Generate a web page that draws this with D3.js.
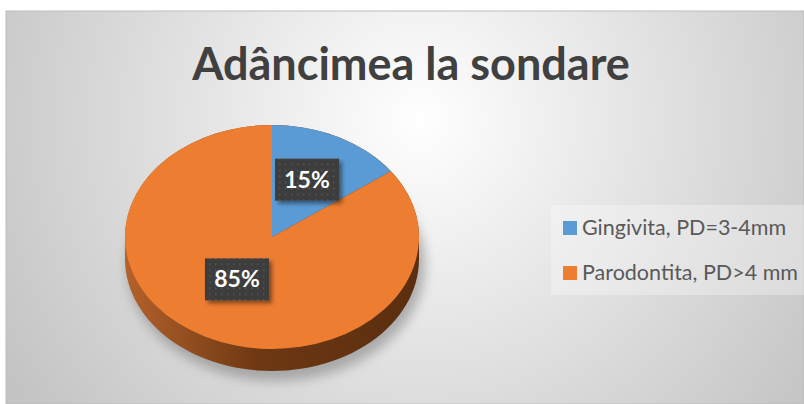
<!DOCTYPE html>
<html>
<head>
<meta charset="utf-8">
<script src="https://cdn.jsdelivr.net/npm/d3@7"></script>
<style>
 body{margin:0;background:#fff;}
 svg{display:block;}
</style>
</head>
<body>
<div id="chart"></div>
<script>
var title = "Adâncimea la sondare";
var categories = ["Gingivita, PD=3-4mm", "Parodontita, PD>4 mm"];
var values = [15, 85];
var labels = ["15%", "85%"];
var colors = ["#5b9bd5", "#ed7d31"];

var width = 804, height = 404;

var svg = d3.select('#chart').append("svg")
  .attr("width", width)
  .attr("height", height);

var defs = svg.append("defs");

// background gradient
var bg = defs.append("radialGradient").attr("id", "bg")
  .attr("gradientUnits", "userSpaceOnUse")
  .attr("cx", 420).attr("cy", 120).attr("r", 480);
bg.append("stop").attr("offset", "0%").attr("stop-color", "#ffffff");
bg.append("stop").attr("offset", "100%").attr("stop-color", "#c4c4c4");

var side = defs.append("linearGradient").attr("id", "side")
  .attr("x1", "0%").attr("x2", "100%").attr("y1", "0%").attr("y2", "0%");
side.append("stop").attr("offset", "0%").attr("stop-color", "#b4612a");
side.append("stop").attr("offset", "45%").attr("stop-color", "#6e3813");
side.append("stop").attr("offset", "100%").attr("stop-color", "#5a2e0f");

var blur = defs.append("filter").attr("id", "blur")
  .attr("x", "-20%").attr("y", "-20%").attr("width", "140%").attr("height", "140%");
blur.append("feGaussianBlur").attr("stdDeviation", 6);

var shadow = defs.append("filter").attr("id", "shadow")
  .attr("x", "-20%").attr("y", "-20%").attr("width", "150%").attr("height", "150%");
shadow.append("feDropShadow").attr("dx", 3).attr("dy", 3).attr("stdDeviation", 2)
  .attr("flood-color", "#000").attr("flood-opacity", 0.45);

var dots = defs.append("pattern").attr("id", "dots")
  .attr("patternUnits", "userSpaceOnUse").attr("width", 6).attr("height", 6);
dots.append("rect").attr("width", 6).attr("height", 6).attr("fill", "#3d3d3d");
dots.append("rect").attr("x", 2).attr("y", 2).attr("width", 1.5).attr("height", 1.5).attr("fill", "#585858");

svg.append("rect")
  .attr("x", 6).attr("y", 11)
  .attr("width", width - 6).attr("height", height - 11)
  .attr("fill", "url(#bg)")
  .attr("stroke", "#bdbdbd").attr("stroke-width", 1);

svg.append("text")
  .attr("x", 411).attr("y", 80)
  .attr("text-anchor", "middle")
  .attr("font-family", "Lato, 'Open Sans', sans-serif")
  .attr("font-weight", "bold")
  .attr("font-size", 45)
  .attr("fill", "#404040")
  .text(title);

// pie
var cx = 272, cy = 237, rx = 147, ry = 112, depth = 22;
var k = ry / rx;

var pie = d3.pie().sort(null).value(function(d){ return d; });
var arcs = pie(values);
var arc = d3.arc().innerRadius(0).outerRadius(rx);
var labelArc = d3.arc().innerRadius(0).outerRadius(rx * 1.05);

// shadow under the pie
svg.append("ellipse")
  .attr("cx", cx + 4).attr("cy", cy + depth + 6)
  .attr("rx", rx + 2).attr("ry", ry + 4)
  .attr("fill", "#7a7a7a").attr("opacity", 0.55)
  .attr("filter", "url(#blur)");

// side wall (front half)
var n = 60;
var bottom = d3.range(n + 1).map(function(i){
  var t = Math.PI - Math.PI * i / n;
  return [cx + rx * Math.cos(t), cy + depth + ry * Math.sin(t)];
});
svg.append("path")
  .attr("d", "M" + (cx - rx) + "," + cy +
    " L" + bottom.map(function(p){ return p.join(","); }).join(" L") +
    " L" + (cx + rx) + "," + cy +
    " A" + rx + "," + ry + " 0 0 0 " + (cx - rx) + "," + cy + " Z")
  .attr("fill", "url(#side)");

var g = svg.append("g")
  .attr("transform", "translate(" + cx + "," + cy + ") scale(1," + k + ")");

g.selectAll("path.slice")
  .data(arcs)
  .enter().append("path")
  .attr("class", "slice")
  .attr("d", arc)
  .attr("fill", function(d, i){ return colors[i]; });

// data labels
var lab = svg.selectAll("g.lab")
  .data(arcs)
  .enter().append("g")
  .attr("class", "lab")
  .attr("transform", function(d){
    var c = labelArc.centroid(d);
    var off = c[1] > 0 ? -10 : -5;
    return "translate(" + (cx + c[0]) + "," + (cy + c[1] * k + off) + ")";
  });

lab.append("rect")
  .attr("x", -32).attr("y", -21)
  .attr("width", 64).attr("height", 42)
  .attr("fill", "url(#dots)")
  .attr("filter", "url(#shadow)");

lab.append("text")
  .attr("text-anchor", "middle")
  .attr("y", 8)
  .attr("font-family", "Lato, 'Open Sans', sans-serif")
  .attr("font-weight", "bold")
  .attr("font-size", 23)
  .attr("fill", "#ffffff")
  .text(function(d, i){ return labels[i]; });

// legend
var leg = svg.append("g");
leg.append("rect")
  .attr("x", 551).attr("y", 205)
  .attr("width", width - 551).attr("height", 90)
  .attr("fill", "#ffffff").attr("opacity", 0.3);

var item = leg.selectAll("g.item")
  .data(categories)
  .enter().append("g")
  .attr("class", "item")
  .attr("transform", function(d, i){ return "translate(563," + (221 + i * 45) + ")"; });

item.append("rect")
  .attr("width", 14).attr("height", 14)
  .attr("fill", function(d, i){ return colors[i]; });

item.append("text")
  .attr("x", 19).attr("y", 14)
  .attr("font-family", "Lato, 'Open Sans', sans-serif")
  .attr("font-size", 21.5)
  .attr("fill", "#595959")
  .text(function(d){ return d; });
</script>
</body>
</html>
